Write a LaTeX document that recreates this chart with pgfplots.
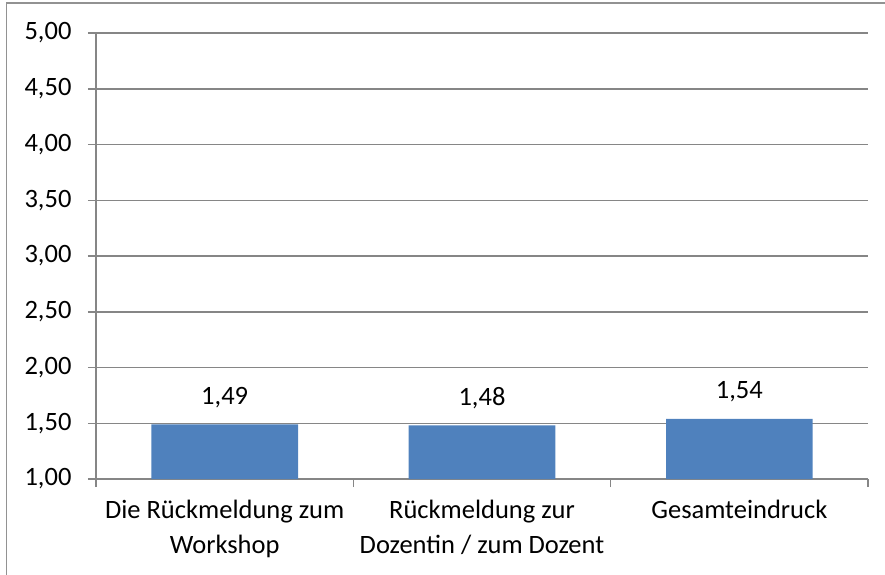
\documentclass[border=0pt]{standalone}
\usepackage{fontspec}
\setmainfont{Carlito}
\usepackage{pgfplots}
\pgfplotsset{compat=1.18}
\definecolor{gridgray}{HTML}{868686}
\definecolor{barblue}{HTML}{4F81BD}
\begin{document}
\begin{tikzpicture}[x=1pt,y=1pt]
\path[use as bounding box] (0,0) rectangle (885,574);
\begin{scope}
\clip (0,0) rectangle (885,574);
\draw[gridgray!90, line width=1.5pt] (6.5,-10) -- (6.5,571) -- (900,571);
\end{scope}
\begin{axis}[
  at={(96pt,95pt)}, anchor=south west,
  scale only axis, width=772pt, height=446pt,
  xmin=-0.5, xmax=2.5, ymin=1, ymax=5,
  axis x line*=bottom, axis y line*=left,
  axis line style={gridgray, line width=1.5pt},
  ytick={1,1.5,...,5},
  ymajorgrids, major grid style={gridgray, line width=1.5pt},
  xtick={0,1,2},
  xticklabels={{Die Rückmeldung zum\\Workshop},{Rückmeldung zur\\Dozentin / zum Dozent},{Gesamteindruck}},
  minor xtick={-0.5,0.5,1.5,2.5},
  tick align=outside,
  major tick length=8pt, minor tick length=8pt,
  xtick style={draw=none},
  minor x tick style={draw=gridgray, line width=1.5pt},
  ytick style={draw=gridgray, line width=1.5pt},
  tick label style={font=\fontsize{26.5}{35}\selectfont, text=black},
  x tick label style={align=center, yshift=-10pt},
  y tick label style={xshift=-13pt},
  /pgf/number format/.cd, fixed, fixed zerofill, precision=2, use comma, assume math mode=true,
  /pgfplots/.cd,
  nodes near coords,
  nodes near coords style={font=\fontsize{26.5}{32}\selectfont, anchor=base, inner sep=0pt, yshift=20pt, text=black,
    /pgf/number format/.cd, fixed, fixed zerofill, precision=2, use comma, assume math mode=true},
]
\addplot[ybar, bar width=0.57, fill=barblue, draw=none] coordinates {(0,1.49) (1,1.48) (2,1.54)};
\end{axis}
\end{tikzpicture}
\end{document}
